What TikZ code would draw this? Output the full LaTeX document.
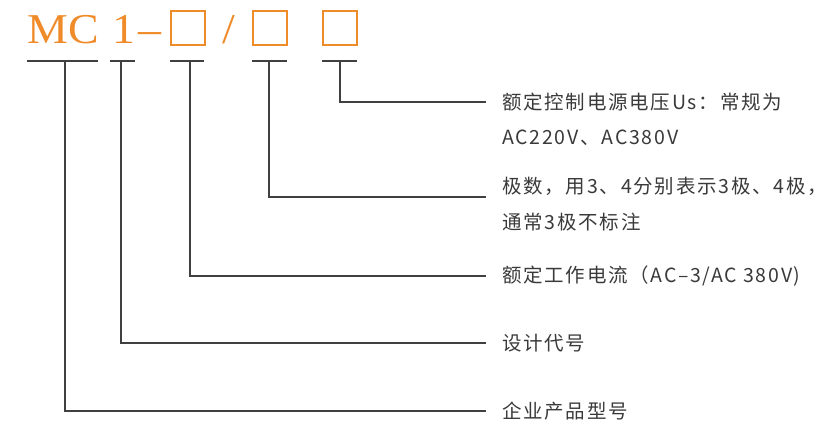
\documentclass[tikz,border=0pt]{standalone}
\usepackage{fontspec}
\newfontfamily\cjk[LetterSpace=9]{Noto Sans CJK SC}
\newfontfamily\topserif[FakeStretch=1.08]{Liberation Serif}
\definecolor{brand}{HTML}{F08B2A}
\definecolor{txt}{HTML}{3A3A3A}
\definecolor{ln}{HTML}{404040}
\tikzset{
  toptext/.style={anchor=base west, inner sep=0pt, text=brand, font=\topserif\fontsize{42.5}{42.5}\selectfont},
  slot/.style={draw=brand, line width=2pt, minimum width=34pt, minimum height=34pt, inner sep=0pt},
  uline/.style={draw=ln, line width=1.3pt},
  conn/.style={draw=ln, line width=1.3pt},
  desc/.style={anchor=west, inner sep=0pt, text=txt, font=\cjk\fontsize{19.5}{19.5}\selectfont},
}
\begin{document}
\begin{tikzpicture}[x=1pt, y=-1pt]
\useasboundingbox (0,0) rectangle (829,426);
% top code
\node[toptext] (mc) at (27,43) {MC};
\node[toptext] (one) at (112,43) {1};
\node[toptext] (dash) at (138,43) {–};
\node[slot] (b1) at (188,28) {};
\node[toptext] (slash) at (222,43) {/};
\node[slot] (b2) at (269.5,28) {};
\node[slot] (b3) at (339.5,28) {};
% underlines
\coordinate (u1l) at (27,61);  \coordinate (u1r) at (98,61);
\coordinate (u2l) at (110,61); \coordinate (u2r) at (135,61);
\coordinate (u3l) at (170,61); \coordinate (u3r) at (204,61);
\coordinate (u4l) at (252,61); \coordinate (u4r) at (287,61);
\coordinate (u5l) at (322,61); \coordinate (u5r) at (357,61);
\draw[uline] (u1l) -- (u1r);
\draw[uline] (u2l) -- (u2r);
\draw[uline] (u3l) -- (u3r);
\draw[uline] (u4l) -- (u4r);
\draw[uline] (u5l) -- (u5r);
% connector start points
\coordinate (s1) at (65,61);
\coordinate (s2) at (121,61);
\coordinate (s3) at (190,61);
\coordinate (s4) at (269,61);
\coordinate (s5) at (340,61);
% connector end points
\coordinate (e5) at (486,102);
\coordinate (e4) at (486,197);
\coordinate (e3) at (486,276);
\coordinate (e2) at (486,343);
\coordinate (e1) at (486,411);
\draw[conn] (s5) |- (e5);
\draw[conn] (s4) |- (e4);
\draw[conn] (s3) |- (e3);
\draw[conn] (s2) |- (e2);
\draw[conn] (s1) |- (e1);
% descriptions
\node[desc] (d5a) at (502,102) {额定控制电源电压Us：常规为};
\node[desc] (d5b) at (502,138) {AC220V、AC380V};
\node[desc] (d4a) at (502,186) {极数，用3、4分别表示3极、4极，};
\node[desc] (d4b) at (502,222) {通常3极不标注};
\node[desc] (d3) at (502,276) {额定工作电流（AC–3/AC 380V)};
\node[desc] (d2) at (502,343) {设计代号};
\node[desc] (d1) at (502,411) {企业产品型号};
\end{tikzpicture}
\end{document}
